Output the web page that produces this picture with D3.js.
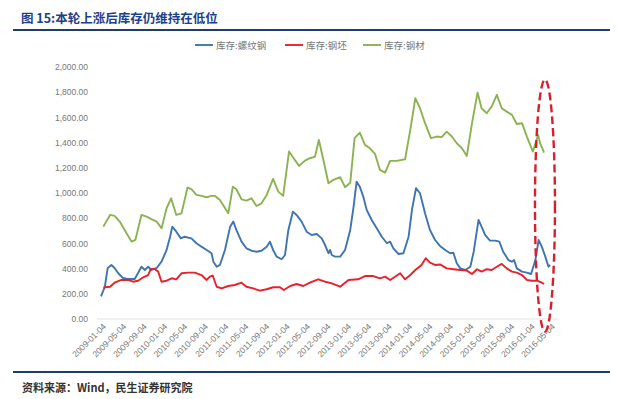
<!DOCTYPE html>
<html>
<head>
<meta charset="utf-8">
<script src="https://cdn.jsdelivr.net/npm/d3@7"></script>
<style>
  body { margin: 0; background: #fff; }
  svg { display: block; }
</style>
</head>
<body>
<div id="chart"></div>
<script>
// series names
const seriesNames = ["库存:螺纹钢", "库存:钢坯", "库存:钢材"];
const seriesColors = ["#3f74b3", "#e8212b", "#8cb352"];

// x tick labels (every 4 months)
const tickLabels = ["2009-01-04","2009-05-04","2009-09-04","2010-01-04","2010-05-04","2010-09-04",
  "2011-01-04","2011-05-04","2011-09-04","2012-01-04","2012-05-04","2012-09-04","2013-01-04",
  "2013-05-04","2013-09-04","2014-01-04","2014-05-04","2014-09-04","2015-01-04","2015-05-04",
  "2015-09-04","2016-01-04","2016-05-04"];

const yTicks = [0, 200, 400, 600, 800, 1000, 1200, 1400, 1600, 1800, 2000];

// 库存:螺纹钢
const rebar = [
  ["2009-01-04",180],["2009-01-27",256],["2009-02-13",405],["2009-03-07",429],["2009-03-26",405],
  ["2009-04-16",365],["2009-05-15",325],["2009-06-13",318],["2009-07-24",318],["2009-08-13",365],
  ["2009-09-02",415],["2009-09-23",389],["2009-10-12",415],["2009-11-01",389],["2009-12-02",405],
  ["2009-12-31",455],["2010-01-30",548],["2010-02-20",653],["2010-03-05",733],["2010-03-29",693],
  ["2010-04-25",640],["2010-05-18",653],["2010-06-27",640],["2010-07-27",601],["2010-08-26",574],
  ["2010-09-26",548],["2010-10-25",522],["2010-11-05",455],["2010-11-25",415],["2010-12-14",429],
  ["2011-01-13",548],["2011-02-13",733],["2011-03-04",773],["2011-03-22",707],["2011-04-22",614],
  ["2011-05-21",561],["2011-06-20",542],["2011-07-20",534],["2011-08-19",542],["2011-09-19",574],
  ["2011-10-08",614],["2011-10-27",548],["2011-11-17",495],["2011-12-17",474],["2012-01-06",508],
  ["2012-01-26",707],["2012-02-22",852],["2012-03-15",826],["2012-04-14",773],["2012-05-14",693],
  ["2012-06-13",667],["2012-07-13",675],["2012-08-12",640],["2012-09-01",587],["2012-09-21",522],
  ["2012-10-01",548],["2012-10-11",508],["2012-10-30",495],["2012-11-30",495],["2012-12-29",548],
  ["2013-01-29",707],["2013-02-18",892],["2013-03-08",1090],["2013-03-27",1050],["2013-04-17",971],
  ["2013-05-07",866],["2013-06-06",786],["2013-07-06",720],["2013-08-05",653],["2013-09-05",601],
  ["2013-09-24",614],["2013-10-13",561],["2013-11-13",516],["2013-12-12",522],["2014-01-12",653],
  ["2014-02-01",866],["2014-02-25",1038],["2014-03-21",998],["2014-04-20",839],["2014-05-19",707],
  ["2014-06-19",627],["2014-07-18",580],["2014-08-18",548],["2014-09-17",522],["2014-10-06",526],
  ["2014-10-26",442],["2014-11-16",402],["2014-12-15",389],["2015-01-15",415],["2015-02-04",534],
  ["2015-03-05",786],["2015-03-23",733],["2015-04-13",667],["2015-05-12",622],["2015-06-12",622],
  ["2015-07-07",614],["2015-07-30",534],["2015-08-30",468],["2015-09-20",455],["2015-10-03",468],
  ["2015-10-19",402],["2015-11-19",376],["2015-12-18",368],["2016-01-12",357],["2016-02-07",468],
  ["2016-02-26",627],["2016-03-16",574],["2016-04-06",495],["2016-04-25",415],["2016-05-05",429]
];

// 库存:钢坯
const billet = [
  ["2009-01-18",250],["2009-02-27",256],["2009-03-26",288],["2009-05-06",310],["2009-06-15",310],
  ["2009-07-14",296],["2009-08-13",304],["2009-09-13",331],["2009-10-12",349],["2009-10-28",398],
  ["2009-11-22",395],["2009-12-11",376],["2009-12-31",296],["2010-01-30",304],["2010-03-02",323],
  ["2010-03-29",315],["2010-04-29",363],["2010-06-08",368],["2010-07-17",368],["2010-08-26",349],
  ["2010-09-26",310],["2010-10-15",336],["2010-11-01",345],["2010-11-25",256],["2010-12-24",243],
  ["2011-02-02",262],["2011-03-12",270],["2011-04-22",288],["2011-05-21",256],["2011-06-30",243],
  ["2011-08-09",225],["2011-09-19",236],["2011-10-27",252],["2011-12-07",252],["2011-12-30",230],
  ["2012-02-06",262],["2012-03-15",278],["2012-04-24",262],["2012-06-02",288],["2012-07-22",315],
  ["2012-09-01",296],["2012-10-11",283],["2012-11-30",256],["2013-01-19",310],["2013-03-17",315],
  ["2013-04-27",341],["2013-06-16",341],["2013-07-25",323],["2013-08-25",336],["2013-09-24",310],
  ["2013-10-23",336],["2013-11-23",363],["2013-12-22",315],["2014-01-22",349],["2014-02-21",389],
  ["2014-03-30",429],["2014-04-24",482],["2014-05-19",447],["2014-06-19",429],["2014-07-18",433],
  ["2014-08-27",402],["2014-10-06",395],["2014-11-16",389],["2014-12-25",384],["2015-01-25",357],
  ["2015-02-24",395],["2015-03-23",376],["2015-04-23",395],["2015-05-22",389],["2015-06-22",415],
  ["2015-07-21",437],["2015-08-20",402],["2015-09-20",376],["2015-10-19",368],["2015-11-19",349],
  ["2015-12-18",310],["2016-01-17",304],["2016-02-17",304],["2016-03-16",288],["2016-03-30",278]
];

// 库存:钢材
const steel = [
  ["2009-01-18",733],["2009-02-27",826],["2009-03-26",818],["2009-04-26",773],["2009-05-25",707],
  ["2009-07-05",614],["2009-07-28",627],["2009-09-02",826],["2009-10-03",812],["2009-11-01",792],
  ["2009-12-02",773],["2009-12-31",720],["2010-01-30",879],["2010-02-26",958],["2010-03-29",826],
  ["2010-04-29",839],["2010-06-04",1043],["2010-06-27",1030],["2010-07-27",985],["2010-08-26",977],
  ["2010-09-26",966],["2010-10-25",977],["2010-11-15",977],["2010-12-14",945],["2011-02-02",839],
  ["2011-03-01",1050],["2011-03-22",1030],["2011-04-22",950],["2011-05-21",940],["2011-06-20",958],
  ["2011-07-20",897],["2011-08-19",918],["2011-09-19",985],["2011-10-27",1112],["2011-11-27",1011],
  ["2011-12-26",977],["2012-01-30",1329],["2012-03-05",1262],["2012-03-30",1215],["2012-05-04",1257],
  ["2012-06-02",1276],["2012-07-03",1289],["2012-07-26",1421],["2012-08-22",1262],["2012-09-21",1077],
  ["2012-10-20",1104],["2012-11-30",1125],["2012-12-29",1046],["2013-01-29",1082],["2013-02-24",1435],
  ["2013-03-27",1479],["2013-04-27",1382],["2013-05-26",1355],["2013-06-26",1310],["2013-07-25",1183],
  ["2013-08-25",1162],["2013-09-24",1255],["2013-11-02",1255],["2013-12-22",1268],["2014-01-22",1501],
  ["2014-02-21",1752],["2014-03-21",1673],["2014-04-20",1554],["2014-05-25",1435],["2014-06-29",1448],
  ["2014-07-28",1443],["2014-08-27",1487],["2014-09-27",1448],["2014-10-26",1395],["2014-11-26",1355],
  ["2014-12-25",1294],["2015-01-25",1554],["2015-02-27",1797],["2015-03-23",1673],["2015-04-23",1633],
  ["2015-05-22",1686],["2015-06-22",1779],["2015-07-21",1673],["2015-08-20",1646],["2015-09-20",1620],
  ["2015-10-19",1548],["2015-11-19",1554],["2015-12-18",1448],["2016-01-23",1329],["2016-02-23",1461],
  ["2016-03-06",1395],["2016-03-30",1321]
];

const allSeries = [rebar, billet, steel];

const width = 618, height = 399;
const parse = d3.timeParse("%Y-%m-%d");
const cjk = "'Noto Sans CJK SC', 'Noto Sans', sans-serif";
const num = "'Liberation Sans', Arial, sans-serif";

const svg = d3.select("#chart").append("svg")
  .attr("width", width)
  .attr("height", height);

// scales
const x = d3.scaleTime()
  .domain([parse(tickLabels[0]), parse(tickLabels[tickLabels.length - 1])])
  .range([101, 550]);
const y = d3.scaleLinear().domain([0, 2000]).range([319, 67]);

// title and rules
svg.append("text")
  .attr("x", 21).attr("y", 23)
  .attr("font-family", cjk)
  .attr("font-weight", "bold")
  .attr("font-size", 12.5)
  .attr("fill", "#1d3f8a")
  .text("图 15:本轮上涨后库存仍维持在低位");

svg.append("line")
  .attr("x1", 13).attr("x2", 610).attr("y1", 30).attr("y2", 30)
  .attr("stroke", "#1e3f6e").attr("stroke-width", 2);

svg.append("line")
  .attr("x1", 13).attr("x2", 610).attr("y1", 372).attr("y2", 372)
  .attr("stroke", "#1e3f6e").attr("stroke-width", 2);

svg.append("text")
  .attr("x", 22).attr("y", 392)
  .attr("font-family", cjk)
  .attr("font-weight", "bold")
  .attr("font-size", 11)
  .attr("fill", "#333")
  .text("资料来源：Wind，民生证券研究院");

// y axis labels
const yAxis = svg.append("g")
  .attr("transform", "translate(100,0)")
  .call(d3.axisLeft(y).tickValues(yTicks).tickSize(0).tickPadding(12).tickFormat(d3.format(",.2f")));
yAxis.select(".domain").remove();
yAxis.selectAll("text")
  .attr("font-family", num).attr("font-size", 8.5).attr("fill", "#777");

// baseline
svg.append("line")
  .attr("x1", 97).attr("x2", 558)
  .attr("y1", y(0)).attr("y2", y(0))
  .attr("stroke", "#e3e3e3").attr("stroke-width", 1);

// x axis labels
const xAxis = svg.append("g")
  .attr("transform", `translate(0,${y(0)})`)
  .call(d3.axisBottom(x).tickValues(tickLabels.map(parse)).tickSize(0).tickFormat(d3.timeFormat("%Y-%m-%d")));
xAxis.select(".domain").remove();
xAxis.selectAll("text")
  .attr("font-family", num).attr("font-size", 8.5).attr("fill", "#777")
  .attr("text-anchor", "end")
  .attr("dx", 0).attr("dy", 0)
  .attr("transform", "translate(3,6) rotate(-45)");

// lines
const line = d3.line()
  .x(d => x(parse(d[0])))
  .y(d => y(d[1]));

svg.append("g")
  .selectAll("path")
  .data(allSeries)
  .enter().append("path")
  .attr("d", line)
  .attr("fill", "none")
  .attr("stroke", (d, i) => seriesColors[i])
  .attr("stroke-width", 1.9)
  .attr("stroke-linejoin", "round");

// legend
const legendX = [195, 285, 363];
const legend = svg.append("g")
  .selectAll("g")
  .data(seriesNames)
  .enter().append("g")
  .attr("transform", (d, i) => `translate(${legendX[i]},45)`);
legend.append("line")
  .attr("x1", 0).attr("x2", 18)
  .attr("stroke", (d, i) => seriesColors[i])
  .attr("stroke-width", 1.9);
legend.append("text")
  .attr("x", 21).attr("y", 3.5)
  .attr("font-family", cjk)
  .attr("font-size", 9.5)
  .attr("fill", "#777")
  .text(d => d);

// dashed ellipse around the latest readings
const eTop = y(1900), eBottom = y(-100);
svg.append("ellipse")
  .attr("cx", x(parse("2016-04-04")))
  .attr("cy", (eTop + eBottom) / 2)
  .attr("rx", 10)
  .attr("ry", (eBottom - eTop) / 2)
  .attr("fill", "none")
  .attr("stroke", "#d8202c")
  .attr("stroke-width", 2.4)
  .attr("stroke-dasharray", "8,4");
</script>
</body>
</html>
